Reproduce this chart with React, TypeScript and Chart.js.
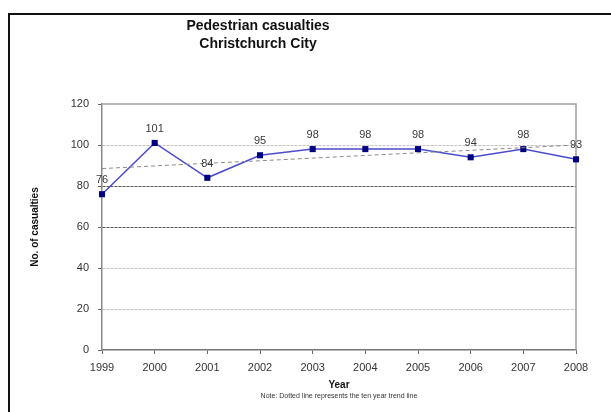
import React, { useEffect, useRef } from "react";
import { Chart, registerables } from "chart.js";

Chart.register(...registerables);

const years = ["1999", "2000", "2001", "2002", "2003", "2004", "2005", "2006", "2007", "2008"];
const casualties = [76, 101, 84, 95, 98, 98, 98, 94, 98, 93];
const trendLine = [88.5, 89.8, 91.1, 92.3, 93.6, 94.9, 96.2, 97.4, 98.7, 100];
const titleLines = ["Pedestrian casualties", "Christchurch City"];
const yTitle = "No. of casualties";
const xTitle = "Year";
const note = "Note: Dotted line represents the ten year trend line";

const FONT = "'Liberation Sans', Arial, sans-serif";

const annotations = {
  id: "annotations",
  afterDraw(chart: any) {
    const { ctx, chartArea } = chart;
    const { left, right, top, bottom } = chartArea;
    ctx.save();
    ctx.fillStyle = "#111";
    ctx.textAlign = "center";
    ctx.textBaseline = "middle";
    ctx.font = `bold 14px ${FONT}`;
    ctx.fillText(titleLines[0], 258, 26);
    ctx.fillText(titleLines[1], 258, 44);

    ctx.font = `bold 10px ${FONT}`;
    ctx.fillText(xTitle, (left + right) / 2, 385);

    ctx.font = `7px ${FONT}`;
    ctx.fillStyle = "#333";
    ctx.fillText(note, (left + right) / 2, 396);

    ctx.save();
    ctx.translate(35, (top + bottom) / 2);
    ctx.rotate(-Math.PI / 2);
    ctx.font = `bold 10px ${FONT}`;
    ctx.fillStyle = "#111";
    ctx.fillText(yTitle, 0, 0);
    ctx.restore();

    // data labels
    const meta = chart.getDatasetMeta(1);
    ctx.font = `11px ${FONT}`;
    ctx.fillStyle = "#3a3a3a";
    meta.data.forEach((pt: any, i: number) => {
      ctx.fillText(String(casualties[i]), pt.x, pt.y - 14);
    });
    ctx.restore();
  },
  beforeDatasetsDraw(chart: any) {
    const { ctx, chartArea } = chart;
    const { left, right, top, bottom } = chartArea;
    ctx.save();
    ctx.strokeStyle = "#a0a0a0";
    ctx.lineWidth = 1.5;
    ctx.setLineDash([]);
    ctx.beginPath();
    ctx.moveTo(left, top);
    ctx.lineTo(right, top);
    ctx.lineTo(right, bottom);
    ctx.stroke();
    ctx.restore();
  },
};

export default function App() {
  const ref = useRef<HTMLCanvasElement>(null);
  useEffect(() => {
    if (!ref.current) return;
    const chart = new Chart(ref.current, {
      type: "line",
      data: {
        labels: years,
        datasets: [
          {
            label: "Trend",
            data: trendLine,
            borderColor: "#8a8a8a",
            borderWidth: 1,
            borderDash: [4, 3],
            pointRadius: 0,
            fill: false,
            tension: 0,
            clip: false,
          },
          {
            label: "Casualties",
            data: casualties,
            borderColor: "#4b4bcc",
            borderWidth: 1.5,
            pointStyle: "rect",
            pointRadius: 4.3,
            pointBackgroundColor: "#000080",
            pointBorderColor: "#000080",
            pointBorderWidth: 0,
            fill: false,
            tension: 0,
            clip: false,
          },
        ],
      },
      options: {
        animation: false,
        responsive: true,
        maintainAspectRatio: false,
        layout: { padding: { left: 0, right: 35, top: 104, bottom: 0 } },
        plugins: {
          legend: { display: false },
          tooltip: { enabled: false },
          title: { display: false },
        },
        scales: {
          x: {
            type: "category",
            offset: false,
            afterFit: (s: any) => {
              s.height = 62;
            },
            grid: {
              drawOnChartArea: false,
              drawTicks: true,
              tickLength: 4,
              tickColor: "#666",
            },
            border: { display: true, color: "#777", width: 1.5 },
            ticks: {
              autoSkip: false,
              maxRotation: 0,
              minRotation: 0,
              padding: 7,
              color: "#333",
              font: { family: FONT, size: 11 },
            },
          },
          y: {
            min: 0,
            max: 120,
            afterFit: (s: any) => {
              s.width = 102;
            },
            grid: {
              drawTicks: true,
              tickLength: 4,
              tickColor: "#666",
              lineWidth: 1,
              color: (c: any) => {
                const v = c.tick?.value;
                if (v === 0 || v === 120) return "rgba(0,0,0,0)";
                if (v === 80 || v === 60) return "#555";
                return "#c4c4c4";
              },
            },
            border: { display: true, color: "#888", width: 1.5, dash: [3, 1] },
            ticks: {
              stepSize: 20,
              padding: 9,
              color: "#333",
              font: { family: FONT, size: 11 },
            },
          },
        },
      },
      plugins: [annotations],
    });
    return () => chart.destroy();
  }, []);

  return (
    <>
      <div
        style={{
          position: "fixed",
          left: 8,
          top: 13,
          width: 700,
          height: 500,
          borderTop: "2px solid #111",
          borderLeft: "2px solid #111",
          boxSizing: "border-box",
        }}
      />
      <div style={{ position: "fixed", left: 0, top: 0, width: 611, height: 412 }}>
        <canvas ref={ref} />
      </div>
    </>
  );
}
